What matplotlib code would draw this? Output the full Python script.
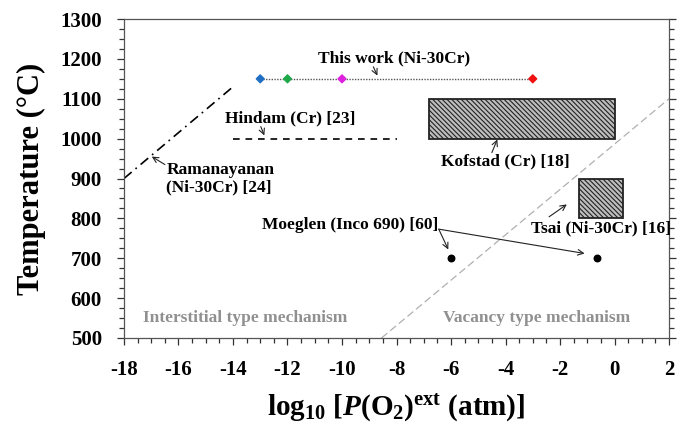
import numpy as np
import matplotlib.pyplot as plt
from matplotlib.patches import Rectangle
from matplotlib.ticker import MultipleLocator

plt.rcParams['font.family'] = ['Liberation Serif', 'DejaVu Serif']
plt.rcParams['font.weight'] = 'bold'
plt.rcParams['axes.labelweight'] = 'bold'
plt.rcParams['axes.unicode_minus'] = False
plt.rcParams['mathtext.fontset'] = 'custom'
plt.rcParams['mathtext.rm'] = 'Liberation Serif:bold'
plt.rcParams['mathtext.it'] = 'Liberation Serif:bold:italic'
plt.rcParams['mathtext.bf'] = 'Liberation Serif:bold'
plt.rcParams['hatch.linewidth'] = 0.8

# This work (Ni-30Cr): log pO2 and temperature of each run
tw_logp = [-13, -12, -10, -3]
tw_temp = [1150, 1150, 1150, 1150]
tw_colors = ['#1f6fc4', '#1fa84a', '#e020e0', '#f01010']

# Ramanayanan (Ni-30Cr) [24]
ram_logp = [-18, -14]
ram_temp = [900, 1130]

# Hindam (Cr) [23]
hin_logp = [-14, -8]
hin_temp = [1000, 1000]

# Kofstad (Cr) [18] and Tsai (Ni-30Cr) [16] ranges: (logp_min, logp_max, T_min, T_max)
kof_range = (-6.8, 0.0, 1000, 1100)
tsai_range = (-1.3, 0.3, 800, 900)

# Moeglen (Inco 690) [60]
moe_logp = [-6, -0.65]
moe_temp = [700, 700]

# boundary between interstitial and vacancy mechanisms
bnd_logp = [-8.55, 2]
bnd_temp = [500, 1100]

fig = plt.figure(figsize=(6.79, 4.32), dpi=100)
ax = fig.add_axes([0.1826, 0.2176, 0.8027, 0.7384])

ax.plot(bnd_logp, bnd_temp, color='#b0b0b0', lw=0.9, ls=(0, (6, 3)))

ax.plot(tw_logp, tw_temp, color='#555555', lw=1.0, ls=(0, (1, 1)))
ax.scatter(tw_logp, tw_temp, c=tw_colors, marker='D', s=16, zorder=3)

ax.plot(ram_logp, ram_temp, color='black', lw=1.2, ls=(0, (6, 3, 1, 3)))
ax.plot(hin_logp, hin_temp, color='black', lw=1.2, ls=(0, (4, 3.5)))

for lo, hi, tlo, thi in [kof_range, tsai_range]:
    ax.add_patch(Rectangle((lo, tlo), hi - lo, thi - tlo, facecolor='#bdbdbd',
                           edgecolor='#222222', lw=1.3, hatch='\\\\\\\\\\\\\\'))

ax.scatter(moe_logp, moe_temp, color='black', s=22, zorder=3)

arrow = dict(arrowstyle='->', color='#222222', lw=0.8, shrinkA=0, shrinkB=0)
fs = 12.5
ax.text(-8.1, 1200, 'This work (Ni-30Cr)', ha='center', va='center', fontsize=fs)
ax.annotate('', xy=(-8.7, 1158), xytext=(-8.85, 1180), arrowprops=arrow)
ax.text(-11.9, 1052, 'Hindam (Cr) [23]', ha='center', va='center', fontsize=fs)
ax.annotate('', xy=(-12.85, 1008), xytext=(-12.98, 1030), arrowprops=arrow)
ax.text(-16.45, 900, 'Ramanayanan\n(Ni-30Cr) [24]', ha='left', va='center',
        fontsize=fs, linespacing=1.1)
ax.annotate('', xy=(-16.98, 955), xytext=(-16.5, 935), arrowprops=arrow)
ax.text(-4.0, 944, 'Kofstad (Cr) [18]', ha='center', va='center', fontsize=fs)
ax.annotate('', xy=(-4.3, 998), xytext=(-4.5, 965), arrowprops=arrow)
ax.text(-0.5, 774, 'Tsai (Ni-30Cr) [16]', ha='center', va='center', fontsize=fs)
ax.annotate('', xy=(-1.75, 835), xytext=(-2.4, 804), arrowprops=arrow)
ax.text(-9.7, 784, 'Moeglen (Inco 690) [60]', ha='center', va='center', fontsize=fs)
ax.annotate('', xy=(-6.1, 722), xytext=(-6.45, 773), arrowprops=arrow)
ax.annotate('', xy=(-1.1, 712), xytext=(-6.45, 773), arrowprops=arrow)

ax.text(-13.55, 550, 'Interstitial type mechanism', ha='center', va='center',
        fontsize=fs, color='#909090')
ax.text(-2.85, 550, 'Vacancy type mechanism', ha='center', va='center',
        fontsize=fs, color='#909090')

ax.set_xlim(-18, 2)
ax.set_ylim(500, 1300)
ax.xaxis.set_major_locator(MultipleLocator(2))
ax.xaxis.set_minor_locator(MultipleLocator(0.5))
ax.yaxis.set_major_locator(MultipleLocator(100))
ax.yaxis.set_minor_locator(MultipleLocator(25))
ax.tick_params(which='both', direction='out', right=True, top=False,
               labelsize=15, width=0.9, colors='#333333', labelcolor='black')
ax.tick_params(which='major', length=5)
ax.tick_params(which='minor', length=3.5)
ax.tick_params(axis='x', which='major', pad=11)
ax.tick_params(axis='y', which='major', pad=11)
for s in ax.spines.values():
    s.set_color('#555555')
    s.set_linewidth(0.9)

ax.set_ylabel('Temperature (°C)', fontsize=22, labelpad=10)
ax.set_xlabel(r'log$_{10}$ [$P$(O$_2$)$^{\rm ext}$ (atm)]', fontsize=21, labelpad=9)

fig.savefig('out.png', dpi=100)
